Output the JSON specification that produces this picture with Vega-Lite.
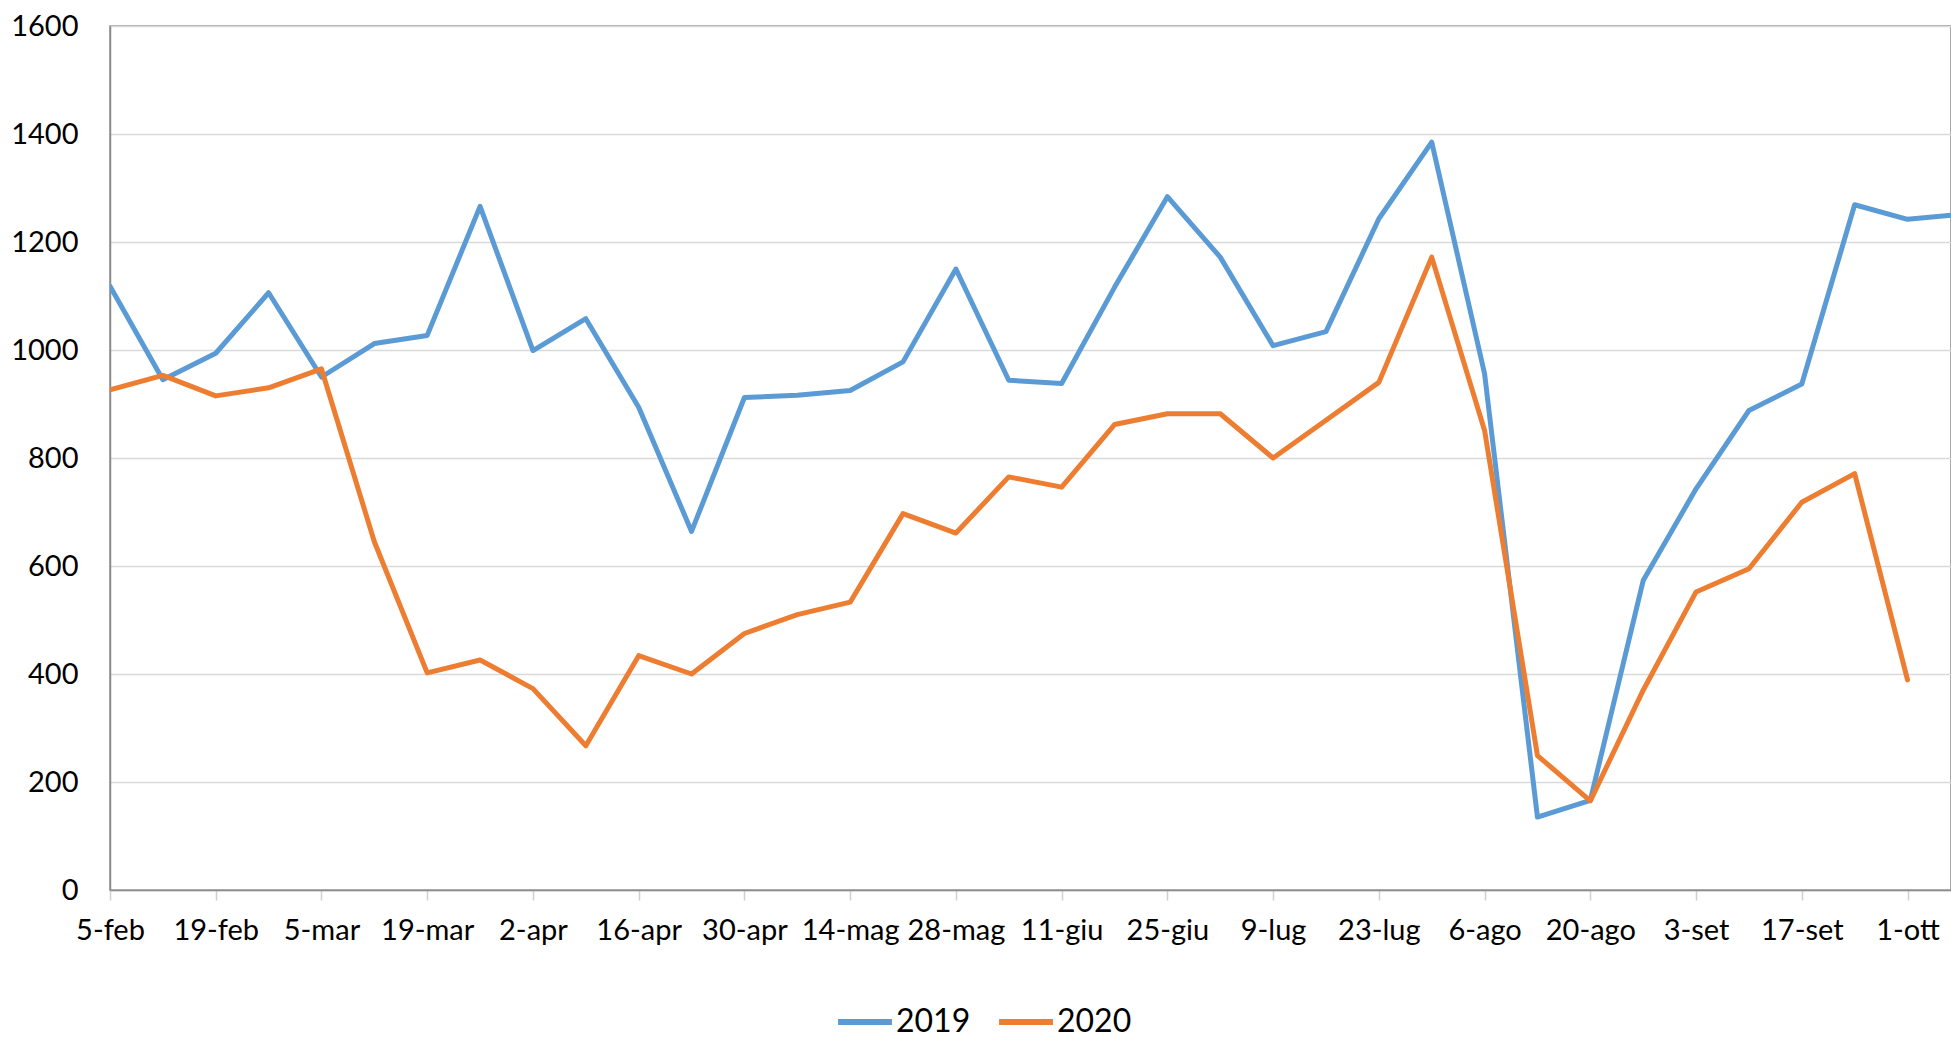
{
  "$schema": "https://vega.github.io/schema/vega-lite/v6.json",
  "width": 1841,
  "height": 864,
  "autosize": "none",
  "padding": {"left": 110, "top": 26, "right": 0, "bottom": 150},
  "background": "white",
  "config": {
    "font": "Lato",
    "view": {"stroke": "#8c8c8c", "strokeWidth": 1.5},
    "axis": {"labelColor": "#000000", "labelFontSize": 29, "titleColor": "#000000"}
  },
  "data": {
    "values": [
      {"settimana": "5-feb", "anno": "2019", "valore": 1118},
      {"settimana": "12-feb", "anno": "2019", "valore": 945},
      {"settimana": "19-feb", "anno": "2019", "valore": 994},
      {"settimana": "26-feb", "anno": "2019", "valore": 1106},
      {"settimana": "5-mar", "anno": "2019", "valore": 950},
      {"settimana": "12-mar", "anno": "2019", "valore": 1012},
      {"settimana": "19-mar", "anno": "2019", "valore": 1027},
      {"settimana": "26-mar", "anno": "2019", "valore": 1266},
      {"settimana": "2-apr", "anno": "2019", "valore": 999},
      {"settimana": "9-apr", "anno": "2019", "valore": 1058},
      {"settimana": "16-apr", "anno": "2019", "valore": 894},
      {"settimana": "23-apr", "anno": "2019", "valore": 664},
      {"settimana": "30-apr", "anno": "2019", "valore": 912},
      {"settimana": "7-mag", "anno": "2019", "valore": 916},
      {"settimana": "14-mag", "anno": "2019", "valore": 925},
      {"settimana": "21-mag", "anno": "2019", "valore": 978},
      {"settimana": "28-mag", "anno": "2019", "valore": 1150},
      {"settimana": "4-giu", "anno": "2019", "valore": 944},
      {"settimana": "11-giu", "anno": "2019", "valore": 938},
      {"settimana": "18-giu", "anno": "2019", "valore": 1116},
      {"settimana": "25-giu", "anno": "2019", "valore": 1284},
      {"settimana": "2-lug", "anno": "2019", "valore": 1172},
      {"settimana": "9-lug", "anno": "2019", "valore": 1008},
      {"settimana": "16-lug", "anno": "2019", "valore": 1034},
      {"settimana": "23-lug", "anno": "2019", "valore": 1243},
      {"settimana": "30-lug", "anno": "2019", "valore": 1385},
      {"settimana": "6-ago", "anno": "2019", "valore": 956},
      {"settimana": "13-ago", "anno": "2019", "valore": 135},
      {"settimana": "20-ago", "anno": "2019", "valore": 166},
      {"settimana": "27-ago", "anno": "2019", "valore": 573},
      {"settimana": "3-set", "anno": "2019", "valore": 743},
      {"settimana": "10-set", "anno": "2019", "valore": 888},
      {"settimana": "17-set", "anno": "2019", "valore": 937},
      {"settimana": "24-set", "anno": "2019", "valore": 1269},
      {"settimana": "1-ott", "anno": "2019", "valore": 1242},
      {"settimana": "8-ott", "anno": "2019", "valore": 1251},
      {"settimana": "5-feb", "anno": "2020", "valore": 926},
      {"settimana": "12-feb", "anno": "2020", "valore": 953},
      {"settimana": "19-feb", "anno": "2020", "valore": 915},
      {"settimana": "26-feb", "anno": "2020", "valore": 930},
      {"settimana": "5-mar", "anno": "2020", "valore": 965},
      {"settimana": "12-mar", "anno": "2020", "valore": 645},
      {"settimana": "19-mar", "anno": "2020", "valore": 402},
      {"settimana": "26-mar", "anno": "2020", "valore": 426},
      {"settimana": "2-apr", "anno": "2020", "valore": 373},
      {"settimana": "9-apr", "anno": "2020", "valore": 267},
      {"settimana": "16-apr", "anno": "2020", "valore": 434},
      {"settimana": "23-apr", "anno": "2020", "valore": 400},
      {"settimana": "30-apr", "anno": "2020", "valore": 475},
      {"settimana": "7-mag", "anno": "2020", "valore": 510},
      {"settimana": "14-mag", "anno": "2020", "valore": 533},
      {"settimana": "21-mag", "anno": "2020", "valore": 697},
      {"settimana": "28-mag", "anno": "2020", "valore": 661},
      {"settimana": "4-giu", "anno": "2020", "valore": 765},
      {"settimana": "11-giu", "anno": "2020", "valore": 746},
      {"settimana": "18-giu", "anno": "2020", "valore": 862},
      {"settimana": "25-giu", "anno": "2020", "valore": 882},
      {"settimana": "2-lug", "anno": "2020", "valore": 882},
      {"settimana": "9-lug", "anno": "2020", "valore": 800},
      {"settimana": "16-lug", "anno": "2020", "valore": 870},
      {"settimana": "23-lug", "anno": "2020", "valore": 940},
      {"settimana": "30-lug", "anno": "2020", "valore": 1172},
      {"settimana": "6-ago", "anno": "2020", "valore": 851},
      {"settimana": "13-ago", "anno": "2020", "valore": 249},
      {"settimana": "20-ago", "anno": "2020", "valore": 165},
      {"settimana": "27-ago", "anno": "2020", "valore": 370},
      {"settimana": "3-set", "anno": "2020", "valore": 552},
      {"settimana": "10-set", "anno": "2020", "valore": 595},
      {"settimana": "17-set", "anno": "2020", "valore": 718},
      {"settimana": "24-set", "anno": "2020", "valore": 771},
      {"settimana": "1-ott", "anno": "2020", "valore": 389}
    ]
  },
  "mark": {"type": "line", "strokeWidth": 5, "clip": true, "strokeJoin": "round", "strokeCap": "round"},
  "encoding": {
    "x": {
      "field": "settimana",
      "type": "ordinal",
      "sort": null,
      "scale": {"type": "point", "padding": 0, "range": [0, 1850.4]},
      "axis": {
        "title": null,
        "values": ["5-feb", "19-feb", "5-mar", "19-mar", "2-apr", "16-apr", "30-apr", "14-mag", "28-mag", "11-giu", "25-giu", "9-lug", "23-lug", "6-ago", "20-ago", "3-set", "17-set", "1-ott"],
        "labelAngle": 0,
        "labelAlign": "center",
        "labelBaseline": "top",
        "labelPadding": 16,
        "tickSize": 10,
        "tickColor": "#d0d0d0",
        "tickWidth": 1.5,
        "domainColor": "#8c8c8c",
        "domainWidth": 1.5,
        "grid": false,
        "labelOverlap": false
      }
    },
    "y": {
      "field": "valore",
      "type": "quantitative",
      "scale": {"domain": [0, 1600], "nice": false},
      "axis": {
        "title": null,
        "values": [0, 200, 400, 600, 800, 1000, 1200, 1400, 1600],
        "format": "d",
        "ticks": false,
        "tickSize": 0,
        "labelPadding": 32,
        "domainColor": "#8c8c8c",
        "domainWidth": 1.5,
        "grid": true,
        "gridColor": "#d9d9d9",
        "gridWidth": 1.5
      }
    },
    "color": {
      "field": "anno",
      "type": "nominal",
      "scale": {"domain": ["2019", "2020"], "range": ["#5B9BD5", "#ED7D31"]},
      "legend": {
        "title": null,
        "orient": "none",
        "direction": "horizontal",
        "legendX": 725,
        "legendY": 966,
        "symbolType": "stroke",
        "symbolSize": 2900,
        "symbolStrokeWidth": 6,
        "labelFontSize": 32,
        "labelColor": "#000000",
        "labelOffset": 1,
        "columnPadding": 16,
        "labelBaseline": "middle"
      }
    }
  }
}
